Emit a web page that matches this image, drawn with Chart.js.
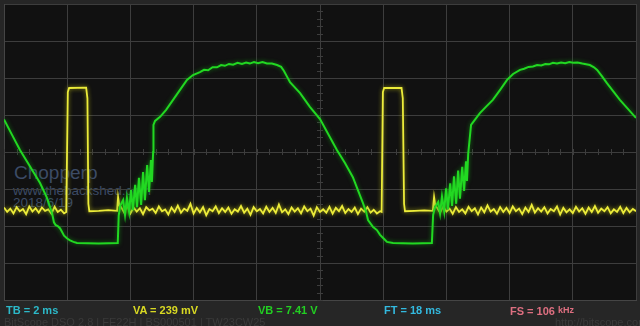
<!DOCTYPE html>
<html>
<head>
<meta charset="utf-8">
<script src="https://cdn.jsdelivr.net/npm/chart.js@4.4.1/dist/chart.umd.min.js"></script>
<style>
  html, body { margin: 0; padding: 0; background: #262626; }
  #wrap { position: relative; width: 640px; height: 326px; overflow: hidden; background: #262626; }
  #plot { position: absolute; left: 4px; top: 4px; width: 632px; height: 296px; background: #111111; }
  #scope { position: absolute; left: 0; top: 0; }
  .mark { position: absolute; font-family: "Liberation Sans", Arial, sans-serif; color: #3c4b66; white-space: nowrap; }
  .info { position: absolute; top: 304px; font-family: "Liberation Sans Narrow", "Liberation Sans", Arial, sans-serif; font-weight: bold; font-size: 11px; line-height: 12px; white-space: nowrap; }
  .foot { position: absolute; top: 316px; font-family: "Liberation Sans Narrow", "Liberation Sans", Arial, sans-serif; font-size: 11px; line-height: 12px; color: #3a3a3a; white-space: nowrap; }
</style>
</head>
<body>
<div id="wrap">
  <div id="plot"></div>
  <div class="mark" style="left:14px;top:162px;font-size:19px;">Chopperp</div>
  <div class="mark" style="left:13px;top:183px;font-size:13.5px;">www.thebackshed.com</div>
  <div class="mark" style="left:13px;top:195px;font-size:13.5px;">2018/6/19</div>
  <canvas id="scope" width="640" height="326"></canvas>
  <div class="info" style="left:6px;color:#2cb9c9;">TB = 2 ms</div>
  <div class="info" style="left:133px;color:#d9d923;">VA = 239 mV</div>
  <div class="info" style="left:258px;color:#22cf22;">VB = 7.41 V</div>
  <div class="info" style="left:384px;color:#33b9df;">FT = 18 ms</div>
  <div class="info" style="left:510px;color:#de6f80;">FS = 106 <span style="font-size:9px;vertical-align:2px;">kHz</span></div>
  <div class="foot" style="left:4px;">BitScope DSO 2.8 | FE22H | BS000501 | TW23CW25</div>
  <div class="foot" style="left:555px;">http://bitscope.com</div>
</div>
<script>
// time axis in ms (2 ms/div, 10 div), amplitude in divisions (8 div)
const timeMin = 0, timeMax = 20, timeStep = 2;
const divMin = -4, divMax = 4, divStep = 1;
const sampleMs = 0.1; // spacing of the noisy stretches below

// channel A (yellow): noisy baseline runs and the two gate pulses
const yellowRunA = [-1.50,-1.62,-1.53,-1.66,-1.49,-1.60,-1.54,-1.68,-1.47,-1.61,
  -1.52,-1.64,-1.50,-1.59,-1.55,-1.67,-1.48,-1.62,-1.56,-1.66];
const yellowPulse1 = [[1.97,-1.62],[2.02,1.62],[2.06,1.73],[2.60,1.74],[2.64,1.45],[2.67,-1.40],
  [2.70,-1.60],[3.00,-1.59],[3.30,-1.57],[3.58,-1.59],[3.61,-1.22],[3.65,-1.45]];
const yellowRunB = [-1.48,-1.63,-1.46,-1.66,-1.50,-1.61,-1.52,-1.68,-1.49,-1.58,
  -1.53,-1.65,-1.47,-1.60,-1.55,-1.69,-1.50,-1.62,-1.45,-1.64,
  -1.53,-1.59,-1.40,-1.66,-1.51,-1.63,-1.49,-1.71,-1.54,-1.60,
  -1.47,-1.65,-1.52,-1.62,-1.50,-1.67,-1.55,-1.61,-1.46,-1.64,
  -1.53,-1.70,-1.49,-1.60,-1.54,-1.66,-1.48,-1.62,-1.51,-1.65,
  -1.42,-1.63,-1.55,-1.68,-1.50,-1.61,-1.52,-1.66,-1.47,-1.60,
  -1.53,-1.72,-1.49,-1.62,-1.55,-1.64,-1.48,-1.67,-1.51,-1.60,
  -1.46,-1.65,-1.54,-1.62,-1.50,-1.68,-1.53,-1.61,-1.49,-1.64,
  -1.56,-1.66,-1.60];
const yellowPulse2 = [[11.95,-1.62],[11.99,1.62],[12.03,1.73],[12.58,1.73],[12.62,1.45],[12.66,-1.40],
  [12.69,-1.60],[13.00,-1.59],[13.30,-1.58],[13.57,-1.59],[13.61,-1.22],[13.65,-1.45]];
const yellowRunC = [-1.50,-1.64,-1.47,-1.61,-1.53,-1.67,-1.49,-1.62,-1.55,-1.66,
  -1.48,-1.60,-1.52,-1.69,-1.50,-1.63,-1.44,-1.61,-1.54,-1.67,
  -1.49,-1.62,-1.51,-1.65,-1.47,-1.60,-1.53,-1.68,-1.50,-1.62,
  -1.43,-1.64,-1.52,-1.61,-1.49,-1.66,-1.54,-1.60,-1.47,-1.69,
  -1.51,-1.63,-1.55,-1.65,-1.48,-1.61,-1.52,-1.67,-1.50,-1.62,
  -1.46,-1.64,-1.53,-1.60,-1.49,-1.66,-1.55,-1.62,-1.48,-1.65,
  -1.51,-1.63,-1.54,-1.60];

// channel B (green): [ms, div]
const greenTrace = [
  [0.00,0.88],[0.25,0.47],[0.51,0.05],[0.80,-0.36],[1.14,-0.84],[1.35,-1.22],[1.52,-1.65],
  [1.58,-1.90],[1.63,-1.97],[1.70,-2.00],[1.77,-2.06],[1.83,-2.15],[1.90,-2.26],[2.00,-2.34],
  [2.09,-2.39],[2.20,-2.43],[2.31,-2.46],[3.00,-2.47],[3.60,-2.46],
  [3.63,-1.72],[3.68,-1.45],[3.77,-1.30],[3.83,-1.70],[3.89,-1.24],[3.96,-1.62],[4.02,-1.03],
  [4.08,-1.57],[4.15,-0.89],[4.21,-1.49],[4.27,-0.70],[4.34,-1.43],[4.40,-0.54],[4.46,-1.30],
  [4.53,-0.35],[4.59,-1.08],[4.65,-0.22],[4.68,-0.81],[4.72,0.00],[4.73,0.73],
  [4.78,0.84],[4.94,0.95],[5.13,1.14],[5.35,1.41],[5.57,1.68],[5.79,1.95],[5.98,2.08],
  [6.20,2.16],[6.33,2.22],[6.46,2.21],[6.60,2.29],[6.74,2.29],[6.87,2.35],[6.99,2.33],
  [7.12,2.38],[7.25,2.36],[7.39,2.41],[7.53,2.38],[7.66,2.42],[7.78,2.39],[7.91,2.43],
  [8.04,2.40],[8.18,2.43],[8.32,2.39],[8.48,2.39],[8.64,2.35],[8.77,2.30],[8.86,2.19],
  [8.96,2.03],[9.05,1.89],[9.37,1.59],[9.68,1.22],[10.00,0.89],[10.54,0.05],[10.79,-0.30],
  [11.04,-0.68],[11.20,-1.03],[11.36,-1.38],[11.46,-1.62],[11.52,-1.84],[11.68,-2.03],
  [11.80,-2.11],[11.90,-2.24],[12.03,-2.35],[12.12,-2.43],[12.31,-2.46],[12.94,-2.47],[13.54,-2.46],
  [13.58,-1.70],[13.64,-1.49],[13.74,-1.35],[13.80,-1.66],[13.86,-1.20],[13.93,-1.60],[13.99,-0.98],
  [14.05,-1.55],[14.12,-0.85],[14.18,-1.46],[14.24,-0.66],[14.31,-1.40],[14.37,-0.50],[14.43,-1.26],
  [14.50,-0.40],[14.56,-1.05],[14.62,-0.25],[14.65,-0.78],[14.69,-0.05],[14.78,0.73],
  [15.06,1.05],[15.25,1.22],[15.47,1.41],[15.70,1.68],[15.92,1.95],[16.11,2.11],[16.33,2.22],
  [16.46,2.25],[16.60,2.30],[16.74,2.31],[16.87,2.35],[17.00,2.34],[17.13,2.38],[17.25,2.37],
  [17.37,2.41],[17.50,2.39],[17.63,2.42],[17.76,2.40],[17.89,2.43],[18.01,2.41],[18.15,2.42],
  [18.30,2.39],[18.54,2.35],[18.67,2.29],[18.77,2.22],[18.92,2.05],[19.08,1.86],[19.49,1.41],
  [20.00,0.92]];

function run(start, values) {
    return values.map((v, i) => ({x: +(start + i * sampleMs).toFixed(2), y: v}));
}
function pairs(list) {
    return list.map(p => ({x: p[0], y: p[1]}));
}

let yellowData = [].concat(run(0, yellowRunA), pairs(yellowPulse1), run(3.7, yellowRunB),
    pairs(yellowPulse2), run(13.7, yellowRunC));
let greenData = pairs(greenTrace);

// small ticks along the centre cross, like the scope graticule
const centreTicks = {
    id: 'centreTicks',
    beforeDatasetsDraw(chart) {
        const ctx = chart.ctx;
        const xs = chart.scales.x, ys = chart.scales.y;
        const cx = xs.getPixelForValue((timeMin + timeMax) / 2);
        const cy = ys.getPixelForValue(0);
        ctx.save();
        ctx.strokeStyle = '#3d3d3d';
        ctx.lineWidth = 1;
        ctx.beginPath();
        for (let t = timeMin; t <= timeMax; t += 0.4) {
            const px = Math.round(xs.getPixelForValue(t)) + 0.5;
            ctx.moveTo(px, cy - 3); ctx.lineTo(px, cy + 3);
        }
        for (let d = divMin; d <= divMax; d += 0.2) {
            const py = Math.round(ys.getPixelForValue(d)) + 0.5;
            ctx.moveTo(cx - 3, py); ctx.lineTo(cx + 3, py);
        }
        ctx.stroke();
        ctx.restore();
    }
};

// soft glow round each trace, the scope phosphor look
const traceGlow = {
    id: 'traceGlow',
    beforeDatasetDraw(chart, args) {
        const ctx = chart.ctx;
        ctx.save();
        ctx.shadowColor = args.index === 1 ? 'rgba(170,170,20,0.9)' : 'rgba(20,150,20,0.8)';
        ctx.shadowBlur = 4;
    },
    afterDatasetDraw(chart) {
        chart.ctx.restore();
    }
};

let ctx = document.getElementById('scope').getContext('2d');
let scopeChart = new Chart(ctx, {
    type: 'line',
    data: {
        datasets: [{
            label: 'VB',
            data: greenData,
            borderColor: '#22d822',
            borderWidth: 2,
            pointRadius: 0,
            tension: 0,
            order: 0
        }, {
            label: 'VA',
            data: yellowData,
            borderColor: '#ecec3a',
            borderWidth: 1.8,
            pointRadius: 0,
            tension: 0,
            order: 1
        }]
    },
    options: {
        responsive: false,
        animation: false,
        layout: { padding: { left: 4, top: 4, right: 4, bottom: 26 } },
        plugins: {
            legend: { display: false },
            tooltip: { enabled: false }
        },
        scales: {
            x: {
                type: 'linear',
                min: timeMin,
                max: timeMax,
                ticks: { display: false, stepSize: timeStep },
                grid: { color: '#3d3d3d', drawTicks: false },
                border: { color: '#454545' }
            },
            y: {
                min: divMin,
                max: divMax,
                ticks: { display: false, stepSize: divStep },
                grid: { color: '#3d3d3d', drawTicks: false },
                border: { color: '#454545' }
            }
        }
    },
    plugins: [centreTicks, traceGlow]
});
</script>
</body>
</html>
